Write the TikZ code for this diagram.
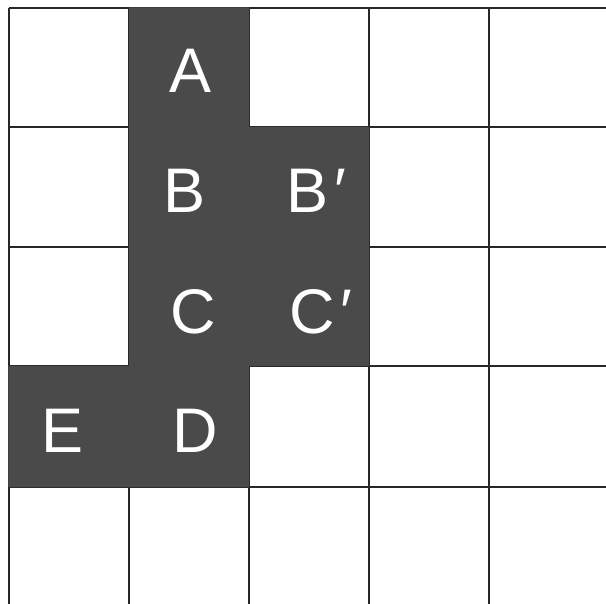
\documentclass[tikz,border=0pt]{standalone}
\usepackage{fontspec}
\setmainfont{Liberation Sans}
\definecolor{darkcell}{RGB}{74,74,74}
\definecolor{gridline}{RGB}{40,40,40}
\tikzset{
  gridln/.style={draw=gridline, line width=1.4pt},
  cellfill/.style={fill=darkcell, draw=none},
  lbl/.style={text=white, font=\fontsize{63}{63}\selectfont, anchor=base, inner sep=0pt}
}
\begin{document}
\begin{tikzpicture}[x=1pt,y=-1pt]
\useasboundingbox (0,0) rectangle (606,604);
\fill[white] (0,0) rectangle (606,604);
% grid
\foreach \x in {9,129,249,369,489} \draw[gridln] (\x,8) -- (\x,604);
\foreach \y in {8,127,247,366,487} \draw[gridln] (9,\y) -- (606,\y);
% dark cells
\path[cellfill] (129,7.3) -- (249,7.3) -- (249,127) -- (369,127) -- (369,366) -- (249,366) -- (249,487) -- (8.3,487) -- (8.3,366) -- (129,366) -- cycle;
% labels
\node[lbl] (A)  at (191,93)  {A};
\node[lbl] (B)  at (185,213) {B};
\node[lbl] (Bp) at (316,213) {B\kern6pt′};
\node[lbl] (C)  at (193,334) {C};
\node[lbl] (Cp) at (321,334) {C\kern5pt′};
\node[lbl] (E)  at (63,453)  {E};
\node[lbl] (D)  at (195,453) {D};
\end{tikzpicture}
\end{document}
